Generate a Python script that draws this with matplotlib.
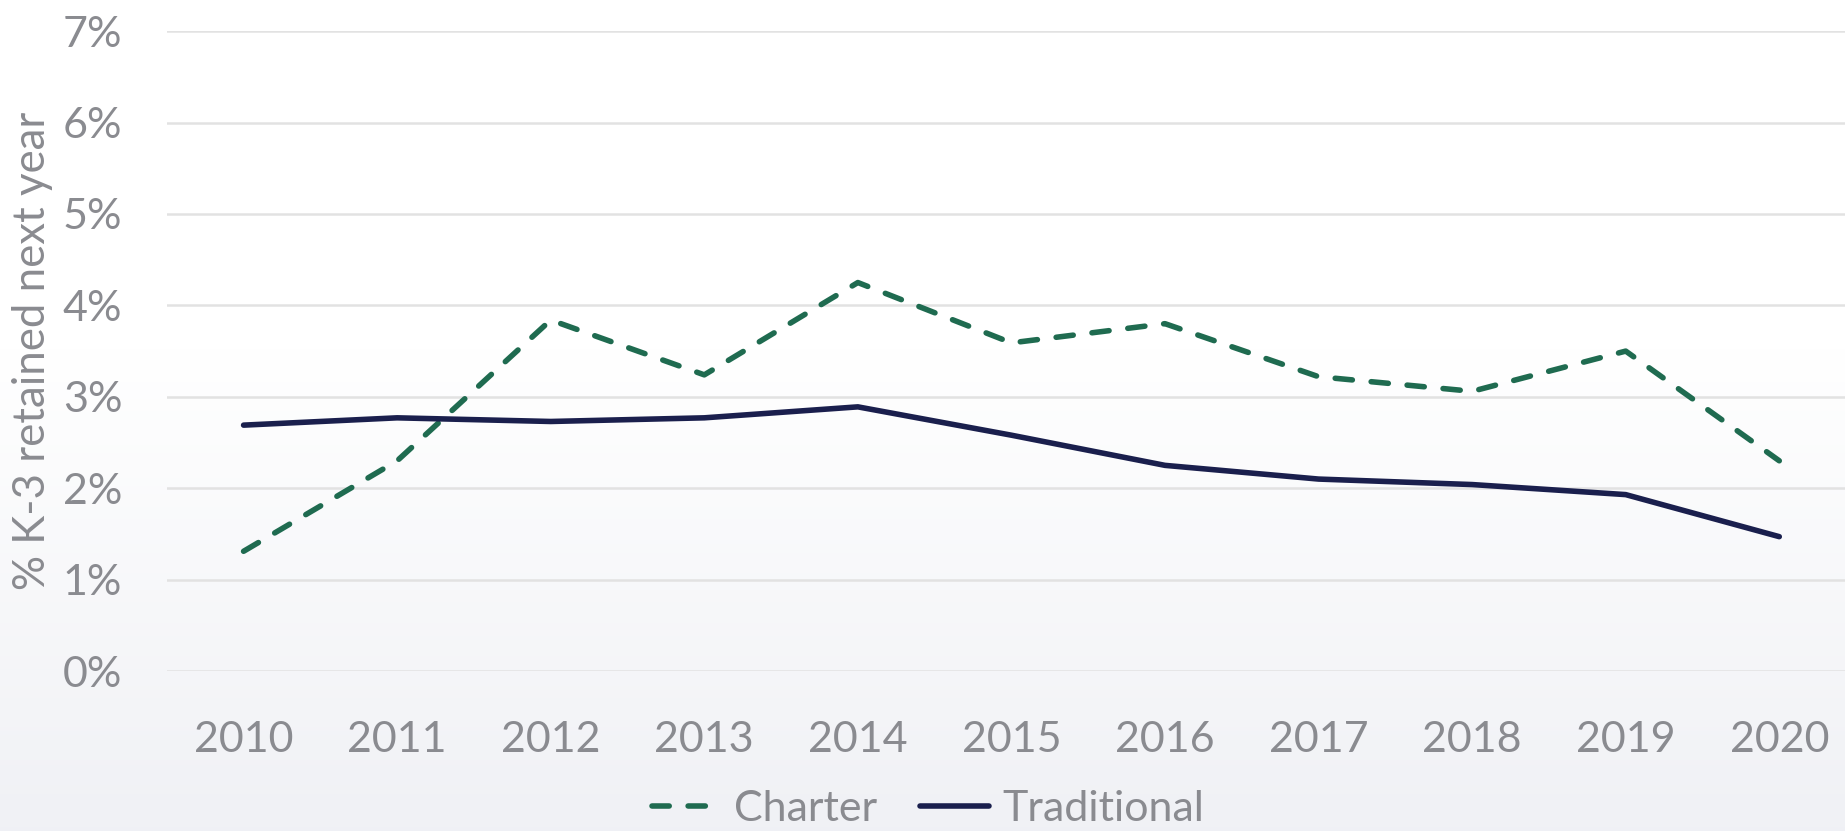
import numpy as np
import matplotlib.pyplot as plt
from matplotlib.ticker import PercentFormatter

# -------------------------
# DATOS
# -------------------------
anios = ['2010', '2011', '2012', '2013', '2014', '2015', '2016', '2017', '2018', '2019', '2020']
charter = [1.31, 2.30, 3.84, 3.24, 4.25, 3.59, 3.80, 3.22, 3.06, 3.50, 2.30]
tradicional = [2.69, 2.77, 2.73, 2.77, 2.89, 2.58, 2.25, 2.10, 2.04, 1.93, 1.47]
ticks_y = [0, 1, 2, 3, 4, 5, 6, 7]

color_texto = '#8a8b90'
color_charter = '#1f6b50'
color_trad = '#1a1f4d'
fuente = ['Lato', 'DejaVu Sans']

plt.rcParams['font.family'] = fuente

fig = plt.figure(figsize=(18.45, 8.31), dpi=100)

# fondo con degradado (blanco arriba, gris claro abajo)
fondo = fig.add_axes([0, 0, 1, 1], zorder=-10)
t = np.linspace(0, 1, 200)
grad = np.clip((t - 0.42) / 0.58, 0, 1)[:, None]
top = np.array([1.0, 1.0, 1.0])
bot = np.array([0.941, 0.945, 0.961])
img = top[None, None, :] * (1 - grad[:, :, None]) + bot[None, None, :] * grad[:, :, None]
fondo.imshow(img, aspect='auto', extent=[0, 1, 0, 1], origin='upper')
fondo.axis('off')

ax = fig.add_axes([0.0904, 0.1925, 0.9156, 0.770])
ax.patch.set_alpha(0)

x = np.arange(len(anios))
ax.plot(x, charter, color=color_charter, linewidth=4.0, linestyle=(0, (3.1, 3.4)),
        dash_capstyle='round', dash_joinstyle='round', label='Charter', zorder=3)
ax.plot(x, tradicional, color=color_trad, linewidth=4.0, solid_capstyle='round',
        solid_joinstyle='round', label='Traditional', zorder=3)

ax.set_xlim(-0.5, len(anios) - 0.5)
ax.set_ylim(0, 7)
ax.set_yticks(ticks_y)
ax.yaxis.set_major_formatter(PercentFormatter(decimals=0))
ax.set_xticks(x)
ax.set_xticklabels(anios)

ax.grid(axis='y', color='#e2e2e2', linewidth=1.8)
ax.set_axisbelow(True)
for lado in ['top', 'right', 'left', 'bottom']:
    ax.spines[lado].set_visible(False)
ax.tick_params(axis='both', length=0, labelsize=31, colors=color_texto)
ax.tick_params(axis='x', pad=36)
ax.tick_params(axis='y', pad=32)

ax.set_ylabel('% K-3 retained next year', fontsize=31.5, color=color_texto, labelpad=7)

fig.legend(loc='center', bbox_to_anchor=(0.503, 0.026), ncol=2, frameon=False,
           fontsize=31, labelcolor=color_texto, handlelength=1.6, handletextpad=0.3,
           columnspacing=1.0, borderpad=0.1)

fig.savefig('out.png', dpi=100)
